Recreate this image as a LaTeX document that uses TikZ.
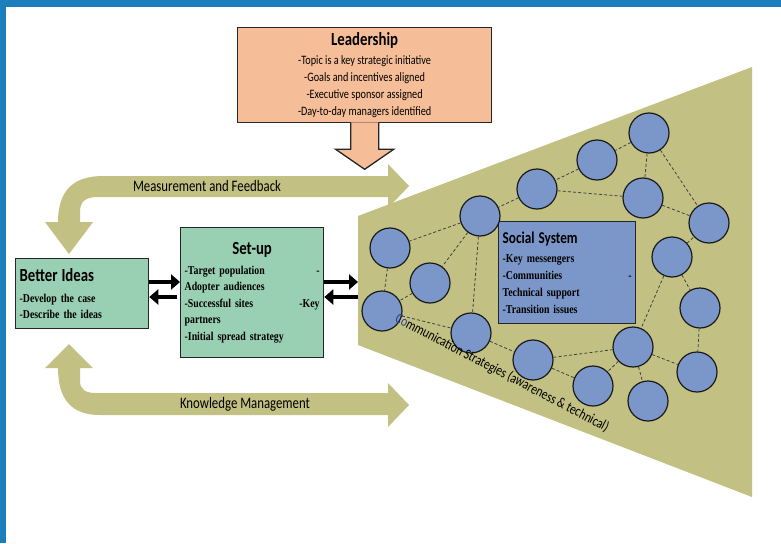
\documentclass[tikz,border=0pt]{standalone}
\usepackage{fontspec}
\usetikzlibrary{arrows.meta}
\newfontfamily\headfont[FakeStretch=0.8]{Carlito}
\newfontfamily\bodyfont[FakeStretch=0.82]{Liberation Serif}
\definecolor{frameblue}{HTML}{1C7EBB}
\definecolor{peach}{HTML}{F6BE98}
\definecolor{bandolive}{HTML}{C2C183}
\definecolor{mint}{HTML}{99CFB3}
\definecolor{peerblue}{HTML}{7B96C8}
\definecolor{commblue}{HTML}{2A3FA0}
\newcommand{\titlefont}{\headfont\bfseries\fontsize{18.5}{22}\selectfont}

\begin{document}
\begin{tikzpicture}[x=1pt, y=-1pt,
  box/.style={draw=black!85, line width=1.3pt, inner xsep=4pt, inner ysep=0pt,
              anchor=north west, align=left},
  body/.style={font=\bodyfont\bfseries\fontsize{12}{16.5}\selectfont},
  band/.style={fill=bandolive},
  flow/.style={line width=3.5pt, -{Triangle[length=9pt, width=15pt]}},
  peer/.style={circle, draw=black!90, line width=1.2pt, fill=peerblue,
               minimum size=40pt, inner sep=0pt},
  link/.style={draw=black!75, line width=0.8pt, dash pattern=on 3pt off 2.2pt},
]

\useasboundingbox (0,0) rectangle (781,543);
\fill[white] (0,0) rectangle (781,543);

% frame
\fill[frameblue] (0,0) rectangle (781,7);
\fill[frameblue] (0,0) rectangle (6,543);

% social system fan
\coordinate (fanNW) at (358,216);
\coordinate (fanNE) at (752,67);
\coordinate (fanSE) at (752,497);
\coordinate (fanSW) at (358,345);
\fill[bandolive] (fanNW) -- (fanNE) -- (fanSE) -- (fanSW) -- cycle;

% feedback loops
\fill[band] (69,254) -- (93,222) -- (80,222) -- (80,212)
  .. controls (80,201) and (86,197) .. (98,197) -- (388,197) -- (388,208)
  -- (409,186) -- (388,164) -- (388,176) -- (103,176)
  .. controls (72,176) and (58,192) .. (58,222) -- (45,222) -- cycle;
\fill[band] (69,344) -- (93,368) -- (80,368) -- (80,381)
  .. controls (80,390) and (86,393) .. (96,393) -- (388,393) -- (388,383)
  -- (409,405) -- (388,427) -- (388,415) -- (100,415)
  .. controls (72,415) and (58,400) .. (58,368) -- (45,368) -- cycle;
\node[font=\headfont\fontsize{16}{18}\selectfont] (measure) at (207,186) {Measurement and Feedback};
\node[font=\headfont\fontsize{16}{18}\selectfont] (knowledge) at (245,404) {Knowledge Management};

% leadership
\node[box, fill=peach, minimum width=254pt, minimum height=95pt, align=center,
      font=\headfont\fontsize{12.8}{17}\selectfont] (lead) at (237,27)
  {{\titlefont Leadership}\\[2pt]
   -Topic is a key strategic initiative\\
   -Goals and incentives aligned\\
   -Executive sponsor assigned\\
   -Day-to-day managers identified};
\filldraw[fill=peach, draw=black!85, line width=1.3pt]
  ([xshift=-14pt, yshift=1pt]lead.south) -- ++(0,27) -- ++(-15,0) -- ++(29,20)
  -- ++(29,-20) -- ++(-15,0) -- ++(0,-27);

% better ideas and set-up
\node[box, body, fill=mint, minimum width=133pt, minimum height=70pt,
      text width=125pt] (ideas) at (15,258)
  {{\titlefont Better Ideas}\\[4pt]
   -Develop the case\\
   -Describe the ideas};
\node[box, body, fill=mint, minimum width=143pt, minimum height=130pt,
      text width=135pt] (setup) at (180,227)
  {\makebox[\linewidth]{\titlefont Set-up}\\[3.5pt]
   -Target population \hfill -\hspace*{5pt}\\
   Adopter audiences\\
   -Successful sites \hfill -Key\hspace*{3pt}\\
   partners\\
   -Initial spread strategy\\[4pt]};

\draw[flow] (ideas.east |- 0,282) -- (setup.west |- 0,282);
\draw[flow, shorten <=3pt] (setup.west |- 0,297) -- (ideas.east |- 0,297);
\draw[flow] (setup.east |- 0,282) -- (fanNW |- 0,282);
\draw[flow] (fanNW |- 0,297) -- (setup.east |- 0,297);

% social system
\node[box, body, fill=peerblue, minimum width=137pt, minimum height=102pt,
      text width=129pt, font=\bodyfont\bfseries\fontsize{12}{17}\selectfont] (social) at (498,221)
  {{\headfont\bfseries\fontsize{16.5}{20}\selectfont Social System}\\[2pt]
   -Key messengers\\
   -Communities \hfill -\hspace*{19pt}\\
   Technical support\\
   -Transition issues};

\node[peer] (p1) at (649,133) {};
\node[peer] (p2) at (597,160) {};
\node[peer] (p3) at (537,189) {};
\node[peer] (p4) at (643,198) {};
\node[peer] (p5) at (480,216) {};
\node[peer] (p6) at (709,223) {};
\node[peer] (p7) at (390,248) {};
\node[peer] (p8) at (672,257) {};
\node[peer] (p9) at (430,283) {};
\node[peer] (p10) at (382,311) {};
\node[peer] (p11) at (471,333) {};
\node[peer] (p12) at (700,308) {};
\node[peer] (p13) at (633,347) {};
\node[peer] (p14) at (533,360) {};
\node[peer] (p15) at (697,372) {};
\node[peer] (p16) at (593,386) {};
\node[peer] (p17) at (648,401) {};

\draw[link] (p1) -- (p2);
\draw[link] (p2) -- (p3);
\draw[link] (p1) -- (p4);
\draw[link] (p1) -- (p6);
\draw[link] (p3) -- (p4);
\draw[link] (p4) -- (p6);
\draw[link] (p3) -- (p5);
\draw[link] (p5) -- (p7);
\draw[link] (p5) -- (p9);
\draw[link] (p5) -- (p11);
\draw[link] (p7) -- (p10);
\draw[link] (p9) -- (p10);
\draw[link] (p10) -- (p11);
\draw[link] (p11) -- (p14);
\draw[link] (p14) -- (p13);
\draw[link] (p14) -- (p16);
\draw[link] (p13) -- (p16);
\draw[link] (p13) -- (p17);
\draw[link] (p13) -- (p15);
\draw[link] (p12) -- (p15);
\draw[link] (p8) -- (p12);
\draw[link] (p8) -- (p6);
\draw[link] (p8) -- (p13);

\node[font=\headfont\fontsize{14.5}{16}\selectfont, rotate=-27.5] (comm) at (502,373)
  {\textcolor{commblue}{Co}mmunication Strategies (awareness \& technical)};

\end{tikzpicture}
\end{document}
